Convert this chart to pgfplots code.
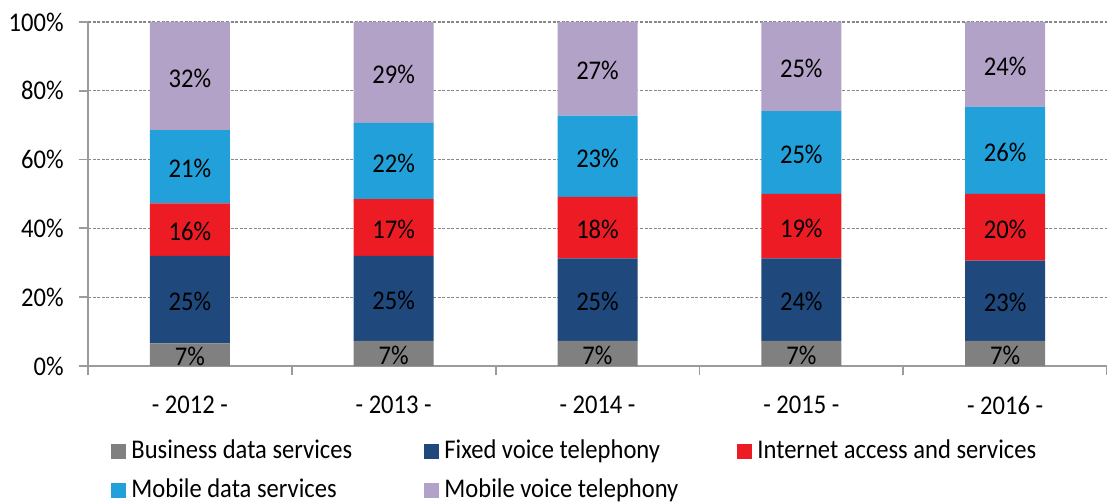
\documentclass[border=0pt]{standalone}
\usepackage{fontspec}
\setmainfont{Carlito}[FakeStretch=0.91]
\usepackage{pgfplots}
\usepackage{pgfplotstable}
\pgfplotsset{compat=1.18}
\definecolor{cBus}{RGB}{128,128,128}
\definecolor{cFix}{RGB}{31,73,125}
\definecolor{cInt}{RGB}{237,28,36}
\definecolor{cMobD}{RGB}{33,160,218}
\definecolor{cMobV}{RGB}{179,162,199}
\definecolor{cAxis}{RGB}{155,155,155}
\definecolor{cGrid}{RGB}{135,135,135}

\pgfplotstableread{
x h lab
0 6.6 7
1 7.3 7
2 7.3 7
3 7.3 7
4 7.3 7
}\business
\pgfplotstableread{
x h lab
0 25.4 25
1 24.7 25
2 24.0 25
3 24.0 24
4 23.3 23
}\fixed
\pgfplotstableread{
x h lab
0 15.3 16
1 16.5 17
2 17.9 18
3 18.7 19
4 19.4 20
}\internet
\pgfplotstableread{
x h lab
0 21.3 21
1 22.2 22
2 23.6 23
3 24.1 25
4 25.4 26
}\mobdata
\pgfplotstableread{
x h lab
0 31.4 32
1 29.3 29
2 27.2 27
3 25.9 25
4 24.6 24
}\mobvoice

\newcommand{\lt}[1]{\makebox[144pt][l]{#1}}

\begin{document}
\fontsize{13.5}{16}\selectfont
\begin{tikzpicture}
\useasboundingbox (0,0) rectangle (553.5pt,251.5pt);
\begin{axis}[
  at={(44pt,68.5pt)}, anchor=south west,
  scale only axis, width=509.5pt, height=172pt,
  ybar stacked, bar width=40pt,
  xmin=-0.5, xmax=4.5, ymin=0, ymax=100,
  xtick={-0.5,0.5,1.5,2.5,3.5,4.5},
  x tick label as interval,
  xticklabels={- 2012 -,- 2013 -,- 2014 -,- 2015 -,- 2016 -},
  ytick={0,20,40,60,80,100},
  yticklabels={0\%,20\%,40\%,60\%,80\%,100\%},
  axis x line*=bottom, axis y line*=left,
  axis line style={draw=cAxis, line width=0.9pt},
  tick align=outside, major tick length=4.5pt,
  tick style={draw=cAxis, line width=0.9pt},
  ymajorgrids,
  grid style={draw=cGrid, dash pattern=on 1.5pt off 0.8pt, line width=0.55pt},
  yticklabel shift=3pt,
  xticklabel shift=6pt,
  point meta=explicit symbolic,
  nodes near coords={\pgfplotspointmeta\%},
  every node near coord/.append style={anchor=center, text=black, inner sep=0pt, yshift=-1pt},
  legend columns=3,
  legend style={draw=none, fill=none, at={(0.0226,-0.205)}, anchor=north west,
    inner sep=0pt, nodes={inner xsep=2.5pt, inner ysep=1.5pt},
    /tikz/every even column/.append style={column sep=0pt},
    row sep=5.25pt},
  legend cell align=left,
  legend image code/.code={\fill[#1] (0pt,-3.75pt) rectangle (7.5pt,3.75pt);},
]
\addplot[fill=cBus, draw=none] table[x=x, y=h, meta=lab] {\business};
\addplot[fill=cFix, draw=none] table[x=x, y=h, meta=lab] {\fixed};
\addplot[fill=cInt, draw=none] table[x=x, y=h, meta=lab] {\internet};
\addplot[fill=cMobD, draw=none] table[x=x, y=h, meta=lab] {\mobdata};
\addplot[fill=cMobV, draw=none] table[x=x, y=h, meta=lab] {\mobvoice};
\legend{\lt{Business data services}, \lt{Fixed voice telephony}, Internet access and services, \lt{Mobile data services}, \lt{Mobile voice telephony}}
\end{axis}
\end{tikzpicture}
\end{document}
